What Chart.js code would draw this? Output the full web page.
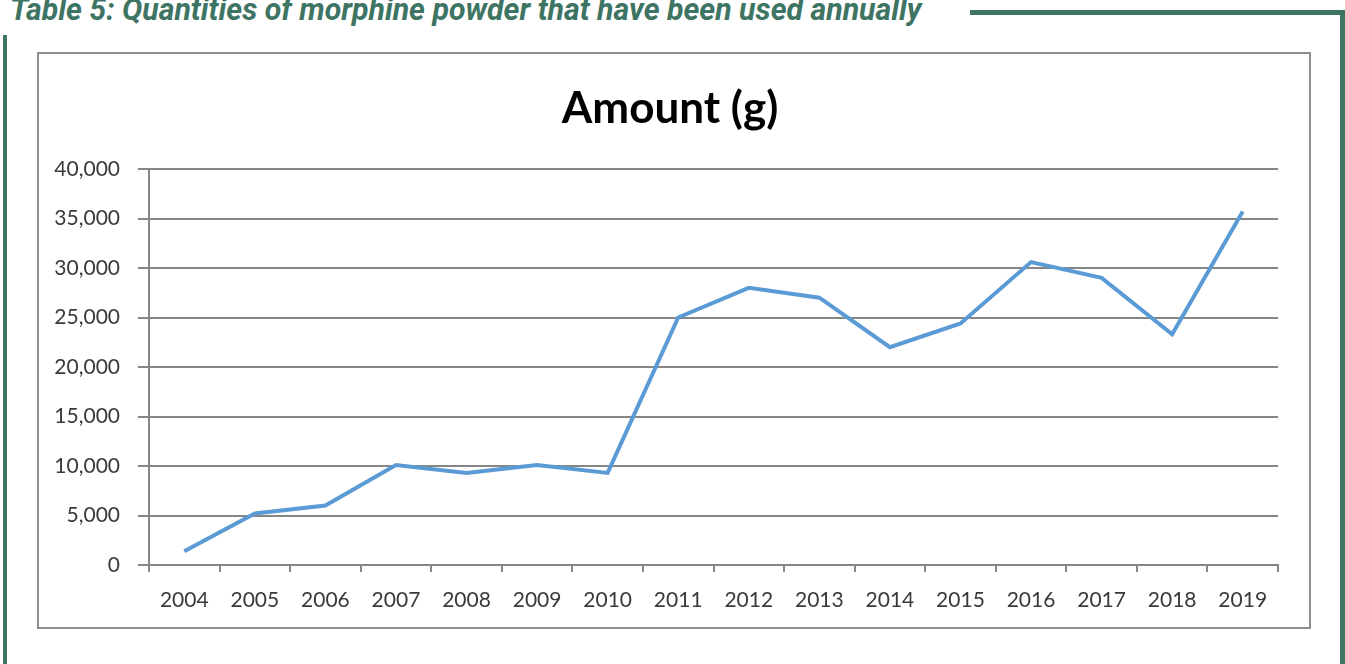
<!DOCTYPE html>
<html lang="en">
<head>
    <meta charset="UTF-8">
    <title>Amount (g)</title>
    <style>
        body {
            margin: 0;
            width: 1345px;
            height: 664px;
            background: #ffffff;
            position: relative;
            overflow: hidden;
            font-family: Lato, sans-serif;
        }
        .heading {
            position: absolute;
            left: 10px;
            top: -6px;
            font-family: Roboto, sans-serif;
            font-weight: 700;
            font-style: italic;
            font-size: 31px;
            line-height: 31px;
            color: #3e7463;
            white-space: nowrap;
            transform-origin: left top;
        }
        .frame { position: absolute; background: #3e7463; }
        .box {
            position: absolute;
            left: 37px;
            top: 52px;
            width: 1274px;
            height: 577px;
            box-sizing: border-box;
            border: 2px solid #8e8e8e;
        }
        #chart { position: absolute; left: 0; top: 0; }
    </style>
</head>
<body>
    <div class="heading" id="heading">Table 5: Quantities of morphine powder that have been used annually</div>
    <div class="frame" style="left:970px; top:10px; width:375px; height:5px;"></div>
    <div class="frame" style="left:1340px; top:10px; width:5px; height:654px;"></div>
    <div class="frame" style="left:3px; top:35px; width:4px; height:629px;"></div>
    <div class="box">
        <canvas id="chart" width="1270" height="573"></canvas>
    </div>

    <script src="https://cdn.jsdelivr.net/npm/chart.js"></script>
    <script>
        // squeeze the heading to the width it has in the original
        let head = document.getElementById('heading');
        head.style.transform = 'scaleX(' + (912 / head.offsetWidth) + ')';

        const years = ['2004', '2005', '2006', '2007', '2008', '2009', '2010', '2011',
                       '2012', '2013', '2014', '2015', '2016', '2017', '2018', '2019'];
        const amounts = [1400, 5200, 6000, 10100, 9300, 10100, 9300, 25000,
                         28000, 27000, 22000, 24400, 30600, 29000, 23300, 35700];
        const yTicks = [0, 5000, 10000, 15000, 20000, 25000, 30000, 35000, 40000];

        const gray = '#868686';
        const labelFont = { family: 'Lato', size: 21 };

        // the title is centred on the whole box, not on the padded area
        const centreTitle = {
            id: 'centreTitle',
            afterLayout(chart) {
                if (chart.titleBlock) chart.titleBlock.right += 23;
            }
        };

        new Chart(document.getElementById('chart').getContext('2d'), {
            type: 'line',
            data: {
                labels: years,
                datasets: [{
                    label: 'Amount (g)',
                    data: amounts,
                    borderColor: '#5b9bd5',
                    borderWidth: 4,
                    pointRadius: 0,
                    tension: 0,
                    fill: false
                }]
            },
            options: {
                responsive: false,
                animation: false,
                layout: { padding: { top: 28, left: 0, right: 31, bottom: 0 } },
                plugins: {
                    legend: { display: false },
                    tooltip: { enabled: false },
                    title: {
                        display: true,
                        text: 'Amount (g)',
                        color: '#000000',
                        font: { family: 'Lato', size: 44, weight: 'bold', lineHeight: 1.2 },
                        padding: { top: 0, bottom: 34.2 }
                    }
                },
                scales: {
                    x: {
                        offset: true,
                        grid: { offset: true, drawOnChartArea: false, color: gray, lineWidth: 2, tickLength: 7 },
                        border: { color: gray, width: 2 },
                        ticks: { color: '#3a3a3a', font: labelFont, padding: 16, maxRotation: 0 },
                        afterFit: s => { s.height = 62; }
                    },
                    y: {
                        min: 0,
                        max: 40000,
                        afterBuildTicks: s => { s.ticks = yTicks.map(v => ({ value: v })); },
                        grid: { color: gray, lineWidth: 2, tickLength: 11 },
                        border: { color: gray, width: 2 },
                        ticks: {
                            color: '#3a3a3a',
                            font: labelFont,
                            padding: 18,
                            callback: v => v.toLocaleString('en-US')
                        },
                        afterFit: s => { s.width = 110; }
                    }
                }
            },
            plugins: [centreTitle]
        });
    </script>
</body>
</html>
